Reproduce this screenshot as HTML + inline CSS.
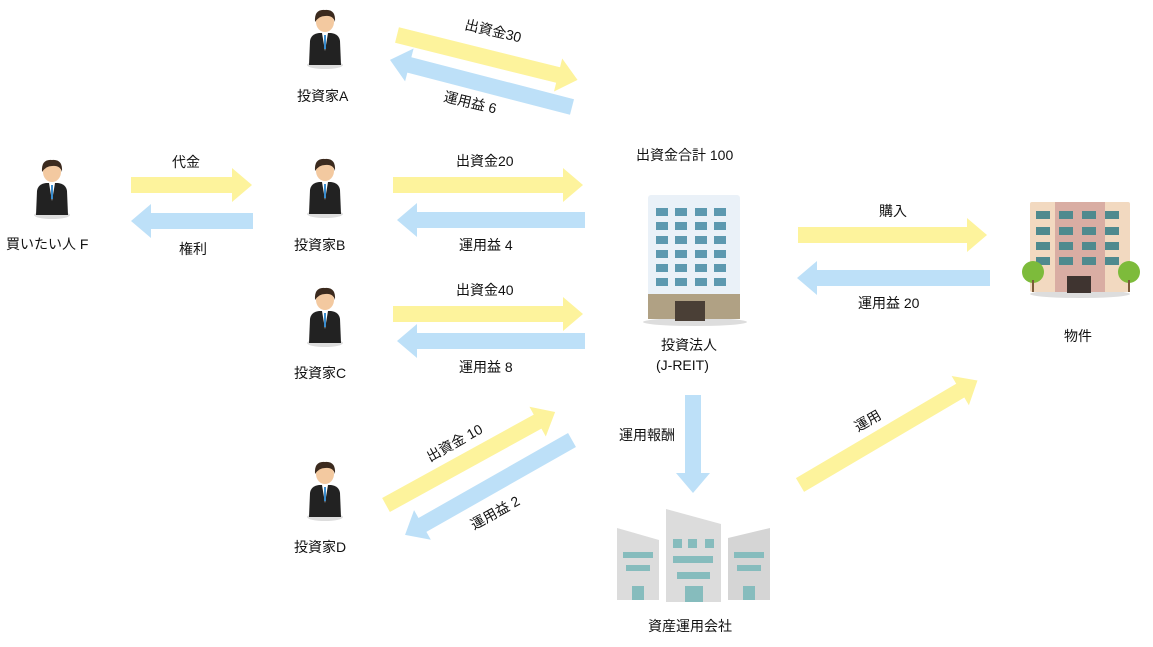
<!DOCTYPE html>
<html><head><meta charset="utf-8"><style>
body{margin:0;background:#fff;}
svg text{font-family:"Liberation Sans","Noto Sans CJK JP",sans-serif;font-size:14px;fill:#111;}
</style></head><body>
<svg width="1153" height="642" viewBox="0 0 1153 642" xmlns="http://www.w3.org/2000/svg">
<defs>
<g id="person">
<ellipse cx="0" cy="40" rx="18" ry="4" fill="#ddd"/>
<path d="M-16,40 L-15,16 Q-14,9 -6,8 L6,8 Q14,9 15,16 L16,40 Z" fill="#222"/>
<path d="M-3,8 L0,26 L3,8 Z" fill="#fff"/>
<rect x="-1" y="10" width="2" height="14" fill="#3a8ed0"/>
<ellipse cx="0" cy="-3" rx="9" ry="10" fill="#f3c9a0"/>
<path d="M-10,-3 Q-11,-16 0,-15 Q11,-16 10,-3 Q8,-10 0,-9 Q-6,-9 -10,-3Z" fill="#3b2a1e"/>
</g>
</defs>

<!-- arrows -->
<g>
<polygon points="131,177 232,177 232,168 252,185 232,202 232,193 131,193" fill="#fdf39c"/>
<polygon points="253,213 151,213 151,204 131,221 151,238 151,229 253,229" fill="#bde0f8"/>
<polygon points="393,177 563,177 563,168 583,185 563,202 563,193 393,193" fill="#fdf39c"/>
<polygon points="585,212 417,212 417,203 397,220 417,237 417,228 585,228" fill="#bde0f8"/>
<polygon points="393,306 563,306 563,297 583,314 563,331 563,322 393,322" fill="#fdf39c"/>
<polygon points="585,333 417,333 417,324 397,341 417,358 417,349 585,349" fill="#bde0f8"/>
<polygon points="798,227 967,227 967,218 987,235 967,252 967,243 798,243" fill="#fdf39c"/>
<polygon points="990,270 817,270 817,261 797,278 817,295 817,286 990,286" fill="#bde0f8"/>
<polygon points="685,395 701,395 701,473 710,473 693,493 676,473 685,473" fill="#bde0f8"/>
<g transform="translate(397,35) rotate(13.96)"><polygon points="0,-8 166,-8 166,-17 186,0 166,17 166,8 0,8" fill="#fdf39c"/></g>
<g transform="translate(572,107) rotate(194.5)"><polygon points="0,-8 168,-8 168,-17 188,0 168,17 168,8 0,8" fill="#bde0f8"/></g>
<g transform="translate(386,505) rotate(-28.8)"><polygon points="0,-8 173,-8 173,-17 193,0 173,17 173,8 0,8" fill="#fdf39c"/></g>
<g transform="translate(572,440) rotate(150.4)"><polygon points="0,-8 172,-8 172,-17 192,0 172,17 172,8 0,8" fill="#bde0f8"/></g>
<g transform="translate(800,485) rotate(-30.5)"><polygon points="0,-8 186,-8 186,-17 206,0 186,17 186,8 0,8" fill="#fdf39c"/></g>
</g>

<!-- persons -->
<use href="#person" x="52" y="175"/>
<use href="#person" x="325" y="25"/>
<use href="#person" x="325" y="174"/>
<use href="#person" x="325" y="303"/>
<use href="#person" x="325" y="477"/>

<!-- J-REIT building -->
<ellipse cx="695" cy="322" rx="52" ry="4" fill="#ddd"/>
<rect x="648" y="195" width="92" height="102" rx="3" fill="#eaf1f8"/>
<g fill="#5d99b0">
<rect x="656" y="208" width="12" height="8"/><rect x="675" y="208" width="12" height="8"/><rect x="695" y="208" width="12" height="8"/><rect x="714" y="208" width="12" height="8"/>
<rect x="656" y="222" width="12" height="8"/><rect x="675" y="222" width="12" height="8"/><rect x="695" y="222" width="12" height="8"/><rect x="714" y="222" width="12" height="8"/>
<rect x="656" y="236" width="12" height="8"/><rect x="675" y="236" width="12" height="8"/><rect x="695" y="236" width="12" height="8"/><rect x="714" y="236" width="12" height="8"/>
<rect x="656" y="250" width="12" height="8"/><rect x="675" y="250" width="12" height="8"/><rect x="695" y="250" width="12" height="8"/><rect x="714" y="250" width="12" height="8"/>
<rect x="656" y="264" width="12" height="8"/><rect x="675" y="264" width="12" height="8"/><rect x="695" y="264" width="12" height="8"/><rect x="714" y="264" width="12" height="8"/>
<rect x="656" y="278" width="12" height="8"/><rect x="675" y="278" width="12" height="8"/><rect x="695" y="278" width="12" height="8"/><rect x="714" y="278" width="12" height="8"/>
</g>
<rect x="648" y="294" width="92" height="25" fill="#b0a184"/>
<rect x="675" y="301" width="30" height="20" fill="#4a3f36"/>

<!-- property building -->
<ellipse cx="1080" cy="294" rx="50" ry="4" fill="#ddd"/>
<rect x="1030" y="202" width="100" height="90" rx="2" fill="#f2d9c0"/>
<rect x="1055" y="202" width="50" height="90" fill="#d9ada3"/>
<g fill="#4f8a8e">
<rect x="1036" y="211" width="14" height="8"/><rect x="1059" y="211" width="14" height="8"/><rect x="1082" y="211" width="14" height="8"/><rect x="1105" y="211" width="14" height="8"/>
<rect x="1036" y="227" width="14" height="8"/><rect x="1059" y="227" width="14" height="8"/><rect x="1082" y="227" width="14" height="8"/><rect x="1105" y="227" width="14" height="8"/>
<rect x="1036" y="242" width="14" height="8"/><rect x="1059" y="242" width="14" height="8"/><rect x="1082" y="242" width="14" height="8"/><rect x="1105" y="242" width="14" height="8"/>
<rect x="1036" y="257" width="14" height="8"/><rect x="1059" y="257" width="14" height="8"/><rect x="1082" y="257" width="14" height="8"/><rect x="1105" y="257" width="14" height="8"/>
</g>
<rect x="1067" y="276" width="24" height="17" fill="#3f3430"/>
<circle cx="1033" cy="272" r="11" fill="#7dbb3b"/><rect x="1032" y="280" width="2" height="12" fill="#7a5a3a"/>
<circle cx="1129" cy="272" r="11" fill="#7dbb3b"/><rect x="1128" y="280" width="2" height="12" fill="#7a5a3a"/>

<!-- asset management company -->
<polygon points="617,528 659,540 659,600 617,600" fill="#dcdcdc"/>
<polygon points="666,509 721,524 721,602 666,602" fill="#dcdcdc"/>
<polygon points="728,538 770,528 770,600 728,600" fill="#d5d5d5"/>
<g fill="#86bcbd">
<rect x="623" y="552" width="30" height="6"/><rect x="626" y="565" width="24" height="6"/><rect x="632" y="586" width="12" height="14"/>
<rect x="673" y="539" width="9" height="9"/><rect x="688" y="539" width="9" height="9"/><rect x="705" y="539" width="9" height="9"/>
<rect x="673" y="556" width="40" height="7"/><rect x="677" y="572" width="33" height="7"/><rect x="685" y="586" width="18" height="16"/>
<rect x="734" y="552" width="30" height="6"/><rect x="737" y="565" width="24" height="6"/><rect x="743" y="586" width="12" height="14"/>
</g>

<!-- labels -->
<text x="6" y="249">買いたい人 F</text>
<text x="172" y="167">代金</text>
<text x="179" y="254">権利</text>
<text x="297" y="101">投資家A</text>
<text x="294" y="250">投資家B</text>
<text x="294" y="378">投資家C</text>
<text x="294" y="552">投資家D</text>
<text x="464" y="29" transform="rotate(13.5 464 29)">出資金30</text>
<text x="443" y="101" transform="rotate(13.5 443 101)">運用益 6</text>
<text x="456" y="166">出資金20</text>
<text x="459" y="250">運用益 4</text>
<text x="456" y="295">出資金40</text>
<text x="459" y="372">運用益 8</text>
<text x="430" y="462" transform="rotate(-29 430 462)">出資金 10</text>
<text x="474" y="530" transform="rotate(-29 474 530)">運用益 2</text>
<text x="636" y="160">出資金合計 100</text>
<text x="661" y="350">投資法人</text>
<text x="656" y="370">(J-REIT)</text>
<text x="619" y="440">運用報酬</text>
<text x="879" y="216">購入</text>
<text x="858" y="308">運用益 20</text>
<text x="1064" y="341">物件</text>
<text x="858" y="432" transform="rotate(-30 858 432)">運用</text>
<text x="648" y="631">資産運用会社</text>
</svg>
</body></html>
